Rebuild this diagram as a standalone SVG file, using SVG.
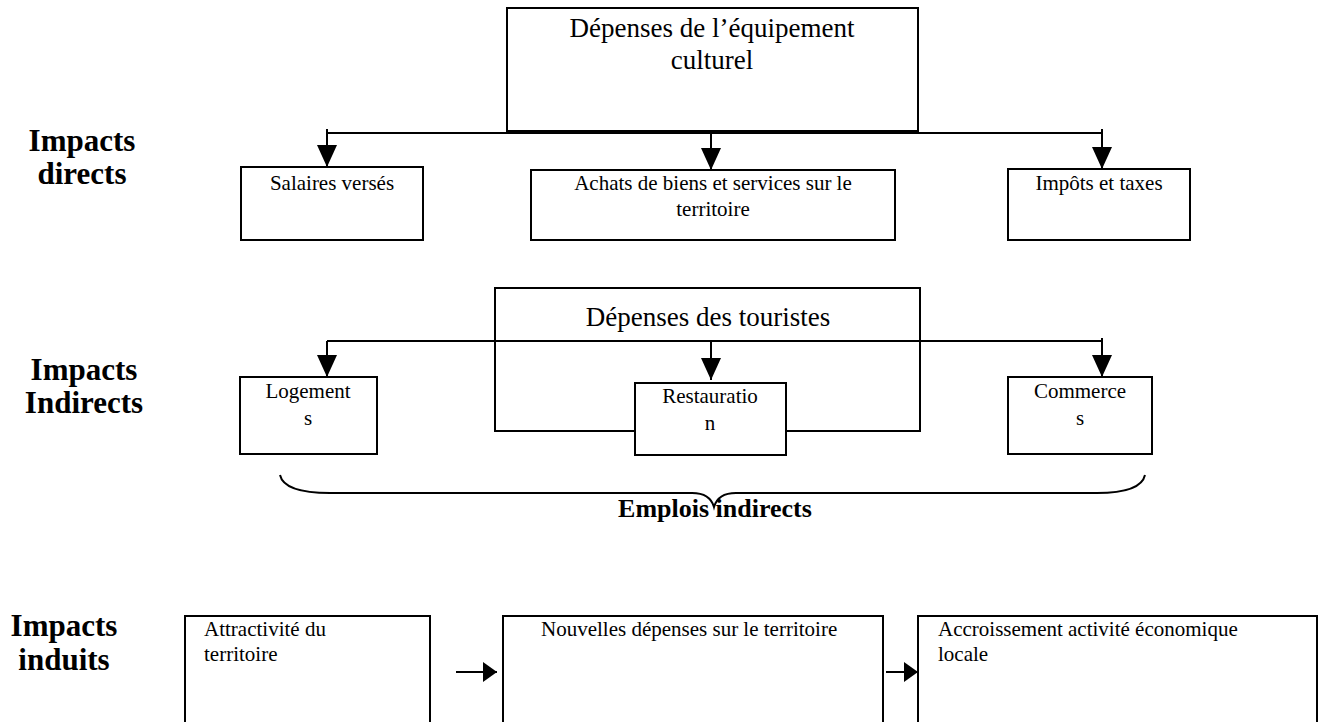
<svg xmlns="http://www.w3.org/2000/svg" width="1320" height="722" viewBox="0 0 1320 722">
<defs>
<style>
.box{fill:#fff;stroke:#000;stroke-width:2}
.open{fill:none;stroke:#000;stroke-width:2}
.ln{fill:none;stroke:#000;stroke-width:2}
.t{font-family:"Liberation Serif","Times New Roman",serif;font-size:21px;fill:#000}
.title{font-family:"Liberation Serif","Times New Roman",serif;font-size:27px;fill:#000}
.lab{font-family:"Liberation Serif","Times New Roman",serif;font-size:31px;font-weight:bold;fill:#000}
.emp{font-family:"Liberation Serif","Times New Roman",serif;font-size:26px;font-weight:bold;fill:#000}
.c{text-anchor:middle}
</style>
<marker id="ahd" viewBox="0 0 22 20" refX="22" refY="10" markerWidth="22" markerHeight="20" markerUnits="userSpaceOnUse" orient="auto">
<path d="M0,0 L22,10 L0,20 Z" fill="#000"/>
</marker>
<marker id="ahr" viewBox="0 0 14 20" refX="14" refY="10" markerWidth="14" markerHeight="20" markerUnits="userSpaceOnUse" orient="auto">
<path d="M0,0 L14,10 L0,20 Z" fill="#000"/>
</marker>
</defs>

<g id="labels">
<text class="lab c" x="82" y="151">Impacts</text>
<text class="lab c" x="82" y="184">directs</text>
<text class="lab c" x="84" y="380">Impacts</text>
<text class="lab c" x="84" y="413">Indirects</text>
<text class="lab c" x="64" y="636">Impacts</text>
<text class="lab c" x="64" y="670">induits</text>
</g>

<g id="node-depenses-touristes">
<rect class="open" x="495" y="288" width="425" height="143"/>
<text class="title c" x="708" y="326">Dépenses des touristes</text>
</g>

<g id="connectors">
<path class="ln" d="M327,133 H1102"/>
<path class="ln" d="M327,129 V167" marker-end="url(#ahd)"/>
<path class="ln" d="M711,131 V170" marker-end="url(#ahd)"/>
<path class="ln" d="M1102,129 V169" marker-end="url(#ahd)"/>
<path class="ln" d="M327,341 H1102"/>
<path class="ln" d="M327,341 V377" marker-end="url(#ahd)"/>
<path class="ln" d="M711,341 V380" marker-end="url(#ahd)"/>
<path class="ln" d="M1102,338 V377" marker-end="url(#ahd)"/>
<path class="ln" d="M456,672 H497" marker-end="url(#ahr)"/>
<path class="ln" d="M886,672 H918" marker-end="url(#ahr)"/>
<path id="brace" class="ln" d="M280,475 Q284,493 330,493 L692,493 Q710,493 714,507 Q718,493 736,493 L1097,493 Q1141,493 1145,475"/>
</g>

<g id="node-depenses-equipement">
<rect class="box" x="507" y="8" width="411" height="123"/>
<text class="title c" x="712" y="37">Dépenses de l’équipement</text>
<text class="title c" x="712" y="69">culturel</text>
</g>

<g id="node-salaires">
<rect class="box" x="241" y="167" width="182" height="73"/>
<text class="t c" x="332" y="190">Salaires versés</text>
</g>

<g id="node-achats">
<rect class="box" x="531" y="170" width="364" height="70"/>
<text class="t c" x="713" y="190">Achats de biens et services sur le</text>
<text class="t c" x="713" y="216">territoire</text>
</g>

<g id="node-impots">
<rect class="box" x="1008" y="169" width="182" height="71"/>
<text class="t c" x="1099" y="190">Impôts et taxes</text>
</g>

<g id="node-logements">
<rect class="box" x="240" y="377" width="137" height="77"/>
<text class="t c" x="308" y="398">Logement</text>
<text class="t c" x="308" y="425">s</text>
</g>

<g id="node-restauration">
<rect class="box" x="635" y="383" width="151" height="72"/>
<text class="t c" x="710" y="403">Restauratio</text>
<text class="t c" x="710" y="430">n</text>
</g>

<g id="node-commerces">
<rect class="box" x="1008" y="377" width="144" height="77"/>
<text class="t c" x="1080" y="398">Commerce</text>
<text class="t c" x="1080" y="425">s</text>
</g>

<g id="emplois-indirects">
<text class="emp c" x="715" y="517">Emplois indirects</text>
</g>

<g id="node-attractivite">
<rect class="box" x="185" y="616" width="245" height="114"/>
<text class="t" x="204" y="636">Attractivité du</text>
<text class="t" x="204" y="661">territoire</text>
</g>

<g id="node-nouvelles">
<rect class="box" x="503" y="616" width="380" height="114"/>
<text class="t" x="541" y="636">Nouvelles dépenses sur le territoire</text>
</g>

<g id="node-accroissement">
<rect class="box" x="918" y="616" width="399" height="114"/>
<text class="t" x="938" y="636">Accroissement activité économique</text>
<text class="t" x="938" y="661">locale</text>
</g>
</svg>
